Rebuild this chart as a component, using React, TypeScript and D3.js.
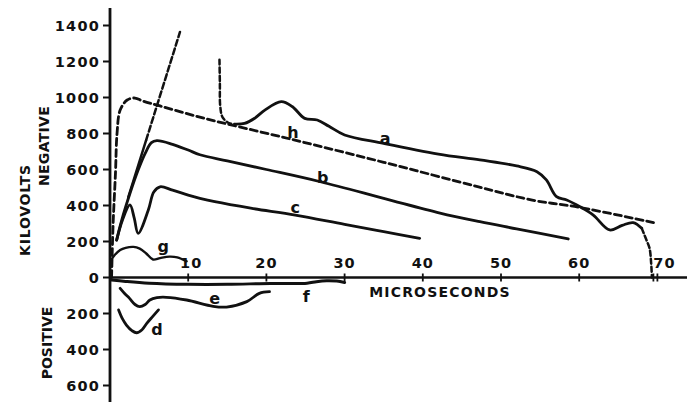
import * as d3 from "d3";
import React from "react";

// time in microseconds, kilovolts (negative polarity up, positive polarity down)
const xTicks = [10, 20, 30, 40, 50, 60, 70];
const yTicks = [1400, 1200, 1000, 800, 600, 400, 200, 0, -200, -400, -600];

const curveH: [number, number][] = [
	[0.2, 0], [0.4, 300], [0.7, 580], [0.9, 800], [1.3, 930], [2.2, 986], [3.2, 997],
	[4.2, 980], [6.4, 953], [12, 885], [23, 770], [35, 640], [47, 505], [54, 430],
	[60, 390], [69.5, 305],
];
const curveAStart: [number, number][] = [
	[14, 1210], [14.05, 1080], [14.1, 950], [14.4, 890], [15.2, 858], [16, 852],
];
const curveA: [number, number][] = [
	[16, 852], [17.2, 856], [18.5, 885], [19.8, 930], [21.9, 977], [23.3, 950],
	[24.9, 884], [26.5, 875], [28, 840], [30, 792], [35, 745], [42, 686], [47.3, 653],
	[52, 620], [54.6, 588], [55.8, 542], [57.1, 449], [58.4, 431], [60.1, 393],
	[61.8, 347], [63.9, 264], [65.5, 290], [66.9, 305], [68, 273],
];
const curveAEnd: [number, number][] = [
	[68, 273], [68.6, 208], [69, 162], [69.2, 80], [69.3, 0],
];
const curveB: [number, number][] = [
	[0.85, 208], [1.5, 319], [2.56, 468], [3.6, 597], [4.5, 690], [5.3, 749], [6.0, 760],
	[8, 740], [10, 708], [11.5, 682], [15, 648], [20, 600], [26.9, 532], [35, 440],
	[42.2, 358], [47.3, 310], [52, 270], [58.6, 214],
];
const curveC: [number, number][] = [
	[0.85, 208], [1.6, 320], [2.55, 403], [3.1, 330], [3.6, 245], [4.9, 375], [5.6, 475],
	[6.4, 504], [8, 485], [10, 458], [11.5, 440], [13.4, 421], [18, 385], [23.7, 347],
	[30, 295], [35, 255], [39.6, 218],
];
const curveG: [number, number][] = [
	[0.2, 100], [0.6, 125], [1.3, 153], [2, 165], [3, 170], [3.8, 160], [4.6, 135],
	[5.5, 100], [6.4, 108], [7.6, 116], [8.6, 112], [9.8, 90],
];
const curveD: [number, number][] = [
	[1.1, -180], [1.6, -230], [2.1, -264], [2.8, -295], [3.4, -307], [4.1, -290],
	[4.7, -255], [5.5, -215], [6.2, -180],
];
const curveE: [number, number][] = [
	[1.3, -60], [1.9, -90], [2.5, -116], [3.2, -150], [3.8, -162], [4.5, -150],
	[5.1, -125], [6, -112], [7.2, -110], [9.8, -125], [13.2, -160], [14.9, -164],
	[17.5, -134], [19.1, -88], [20.4, -79],
];
const curveF: [number, number][] = [
	[0.2, -14], [2, -22], [5, -32], [10, -38], [15, -38], [20.5, -33], [25.2, -32],
	[26.4, -23], [27.7, -18], [29, -20], [30, -28],
];
const lineISolid: [number, number][] = [[2.34, 447], [4.62, 763]];
const lineIDashed: [number, number][] = [[4.62, 763], [8.95, 1364]];

const labels: { text: string; t: number; v: number }[] = [
	{ text: "a", t: 35.2, v: 773 },
	{ text: "h", t: 23.4, v: 803 },
	{ text: "b", t: 27.2, v: 557 },
	{ text: "c", t: 23.7, v: 390 },
	{ text: "g", t: 6.8, v: 171 },
	{ text: "d", t: 6.0, v: -288 },
	{ text: "e", t: 13.4, v: -116 },
	{ text: "f", t: 25.1, v: -107 },
];

const font = "'DejaVu Sans', sans-serif";

const App = () => {
	const x = d3.scaleLinear().domain([0, 70]).range([110, 657.4]);
	const y = d3.scaleLinear().domain([-600, 1400]).range([385.5, 25.5]);

	const line = d3
		.line<[number, number]>()
		.x((d) => x(d[0]))
		.y((d) => y(d[1]))
		.curve(d3.curveCatmullRom.alpha(0.5));

	const path = (data: [number, number][], width = 2.8, dash?: string) => (
		<path
			d={line(data) || ""}
			fill="none"
			stroke="#111"
			strokeWidth={width}
			strokeDasharray={dash}
			strokeLinecap="round"
			strokeLinejoin="round"
		/>
	);

	const y0 = y(0);

	return (
		<svg
			width={697}
			height={402}
			style={{ position: "absolute", left: 0, top: 0, background: "white" }}
			fontFamily={font}
			fontWeight="bold">
			{/* axes */}
			<line x1={110} x2={110} y1={8} y2={402} stroke="#111" strokeWidth={2.8} />
			<line x1={110} x2={687} y1={y0} y2={y0} stroke="#111" strokeWidth={2.4} />
			{yTicks.map((v) => (
				<g key={v}>
					<line x1={103} x2={110} y1={y(v)} y2={y(v)} stroke="#111" strokeWidth={2} />
					<text
						x={100}
						y={y(v)}
						textAnchor="end"
						dominantBaseline="central"
						fontSize={14.5}
						letterSpacing={1.2}
						fill="#111">
						{Math.abs(v)}
					</text>
				</g>
			))}
			{xTicks.map((t) => (
				<g key={t}>
					<line x1={x(t)} x2={x(t)} y1={y0 - 4} y2={y0 + 4} stroke="#111" strokeWidth={1.8} />
					<text
						x={x(t) + (t === 70 ? 7 : t === 10 ? 3 : 0)}
						y={y0 - 10}
						textAnchor="middle"
						fontSize={14.5}
						letterSpacing={1}
						fill="#111">
						{t}
					</text>
				</g>
			))}
			{/* axis break */}
			<line x1={x(70) - 4} x2={x(70) - 4} y1={y0 - 4} y2={y0 + 4} stroke="#111" strokeWidth={1.8} />
			<text x={440} y={y0 + 14} textAnchor="middle" dominantBaseline="central" fontSize={14} letterSpacing={1.2} fill="#111">
				MICROSECONDS
			</text>
			<text transform="translate(25,210) rotate(-90)" textAnchor="middle" dominantBaseline="central" fontSize={14} letterSpacing={0.8} fill="#111">
				KILOVOLTS
			</text>
			<text transform="translate(44,146) rotate(-90)" textAnchor="middle" dominantBaseline="central" fontSize={14} letterSpacing={0.3} fill="#111">
				NEGATIVE
			</text>
			<text transform="translate(47,343) rotate(-90)" textAnchor="middle" dominantBaseline="central" fontSize={14} letterSpacing={0} fill="#111">
				POSITIVE
			</text>

			{/* curves */}
			{path(curveH, 2.8, "7 4")}
			{path(curveAStart, 2.5, "5 3")}
			{path(curveA)}
			{path(curveAEnd, 2.5, "5 3")}
			{path(curveB)}
			{path(curveC)}
			{path(curveG, 2.4)}
			{path(curveD)}
			{path(curveE)}
			{path(curveF, 3)}
			{path(lineISolid, 2.5)}
			{path(lineIDashed, 2.5, "6 3")}

			{labels.map((l) => (
				<text
					key={l.text}
					x={x(l.t)}
					y={y(l.v)}
					textAnchor="middle"
					dominantBaseline="central"
					fontSize={16}
					fill="#111">
					{l.text}
				</text>
			))}
		</svg>
	);
};

export default App;
